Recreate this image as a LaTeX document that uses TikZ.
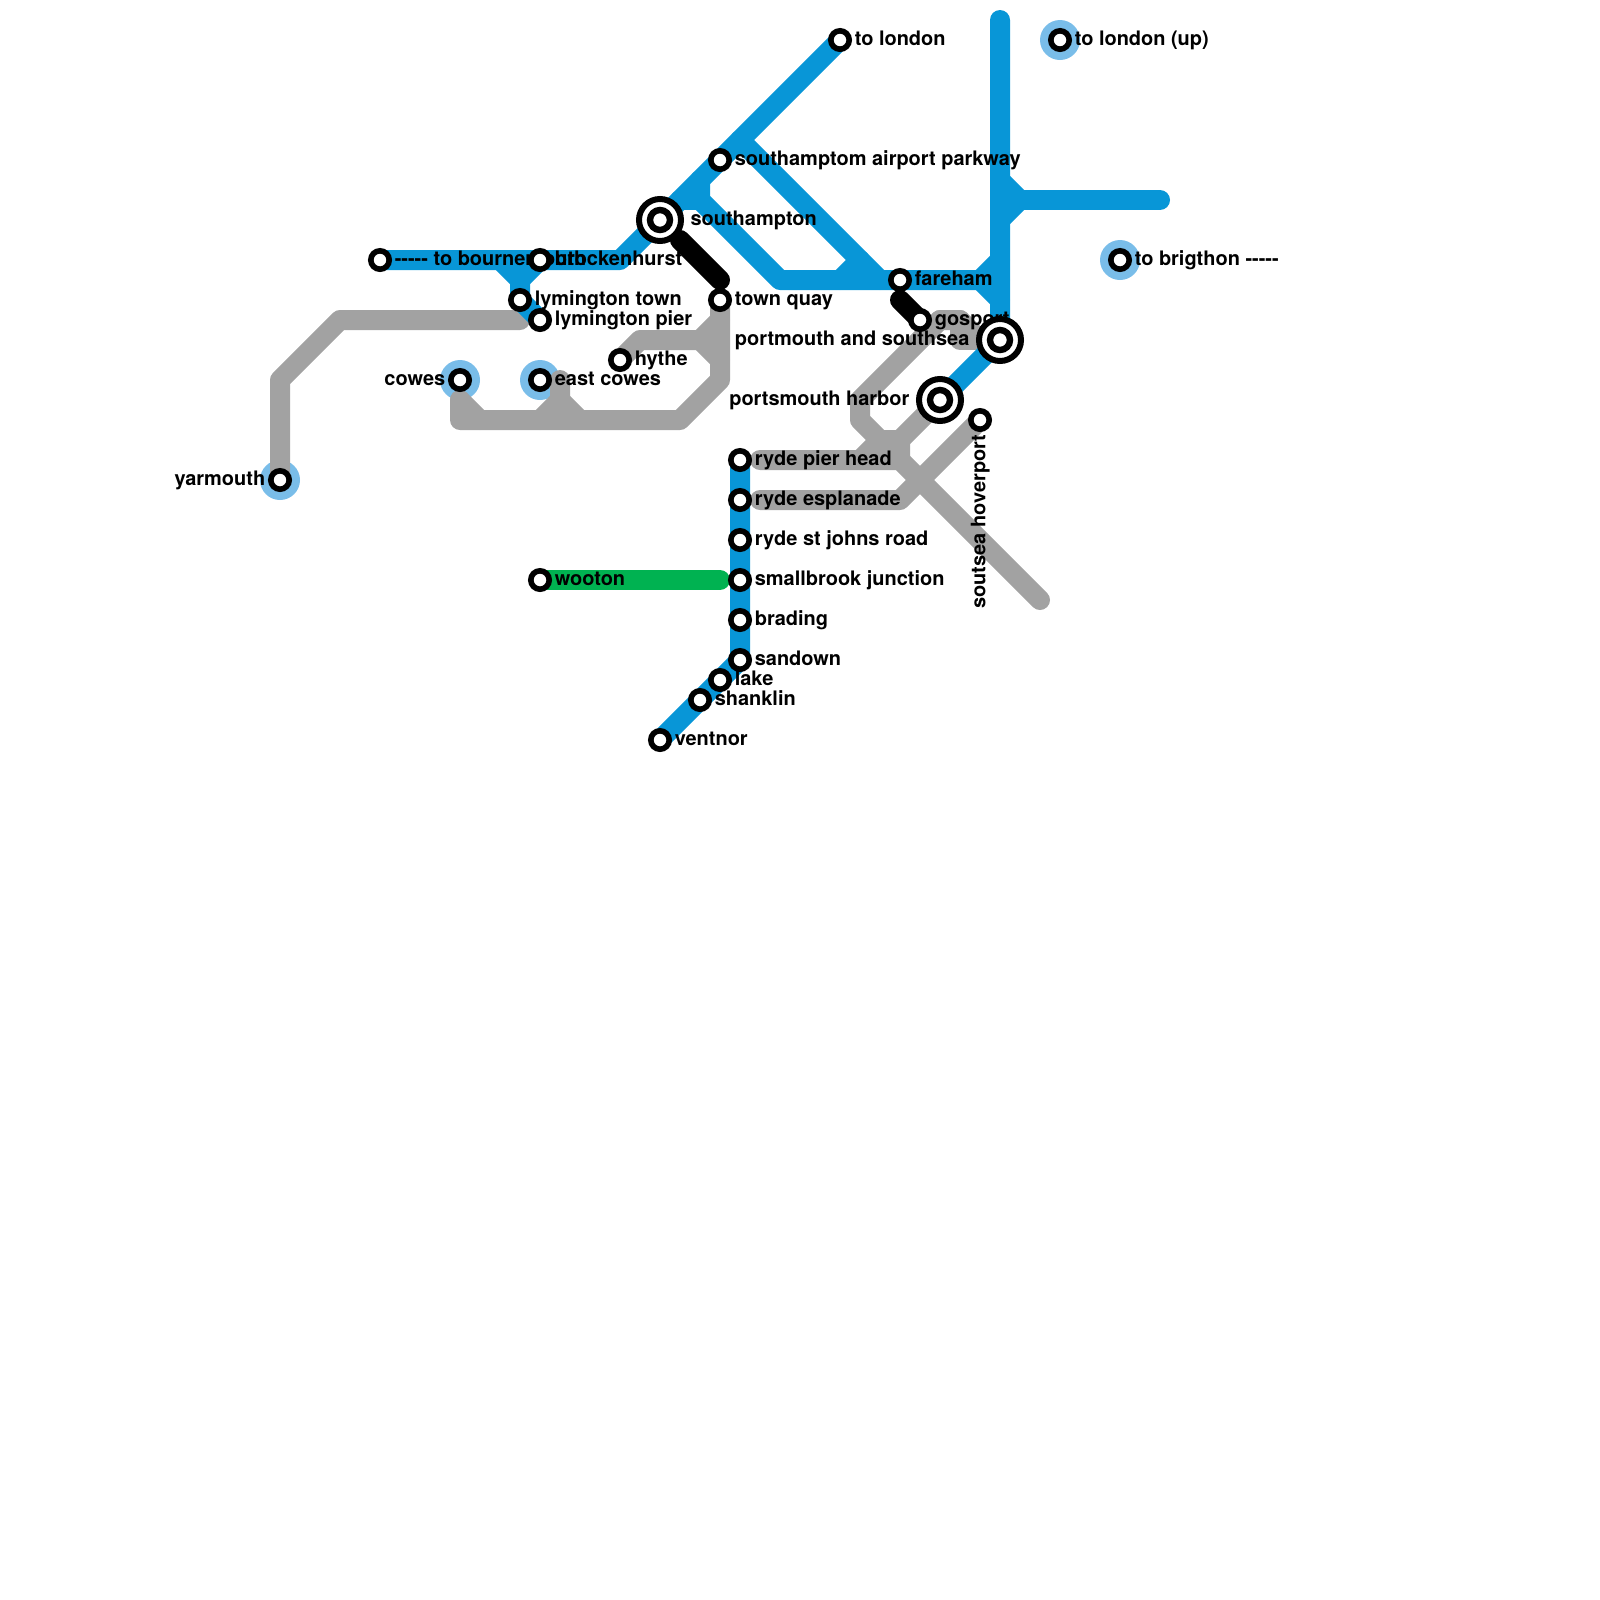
\documentclass[tikz,border=0pt]{standalone}
\usepackage{fontspec}
\setmainfont{TeX Gyre Heros}
\usetikzlibrary{positioning}
\definecolor{Blue}{HTML}{0896D7}
\definecolor{Halo}{HTML}{79BDE9}
\definecolor{Grey}{HTML}{A2A2A2}
\definecolor{Green}{HTML}{00B251}
\pgfdeclarelayer{halos}
\pgfdeclarelayer{lines}
\pgfdeclarelayer{labs}
\pgfsetlayers{halos,lines,labs,main}
\tikzset{
  stn/.style={circle,draw=black,fill=white,line width=1.4mm,minimum size=4.6mm,inner sep=0,outer sep=0},
  xstn/.style={stn,line width=1.5mm,minimum size=10.5mm},
  xin/.style={stn,line width=1.6mm,minimum size=5mm},
  halo/.style={circle,fill=Halo,minimum size=10mm,inner sep=0,outer sep=0},
  track/.style={line width=5mm,line cap=round,line join=round},
  blue/.style={track,draw=Blue},
  grey/.style={track,draw=Grey},
  lab/.style={font=\fontsize{14.2}{16}\selectfont\bfseries,text=black,inner sep=0,outer sep=0,text height=10.4pt,text depth=2.8pt}
}
\begin{document}
\begin{tikzpicture}[x=5mm,y=-5mm]
\useasboundingbox (0,0) rectangle (80,80);

% stations
\node[stn] (bourne) at (19,13) {};
\node[stn] (brockenhurst) at (27,13) {};
\node[stn] (lymtown) at (26,15) {};
\node[stn] (lympier) at (27,16) {};
\node[stn] (yarmouth) at (14,24) {};
\node[stn] (cowes) at (23,19) {};
\node[stn] (eastcowes) at (27,19) {};
\node[stn] (hythe) at (31,18) {};
\node[xstn] (southampton) at (33,11) {};
\node[xin] (southamptonin) at (33,11) {};
\node[stn] (airport) at (36,8) {};
\node[stn] (london) at (42,2) {};
\node[stn] (londonup) at (53,2) {};
\node[stn] (brighton) at (56,13) {};
\node[stn] (townquay) at (36,15) {};
\node[stn] (fareham) at (45,14) {};
\node[stn] (gosport) at (46,16) {};
\node[xstn] (southsea) at (50,17) {};
\node[xin] (southseain) at (50,17) {};
\node[xstn] (harbor) at (47,20) {};
\node[xin] (harborin) at (47,20) {};
\node[stn] (hoverport) at (49,21) {};
\node[stn] (pierhead) at (37,23) {};
\node[stn] (esplanade) at (37,25) {};
\node[stn] (stjohns) at (37,27) {};
\node[stn] (smallbrook) at (37,29) {};
\node[stn] (brading) at (37,31) {};
\node[stn] (sandown) at (37,33) {};
\node[stn] (lake) at (36,34) {};
\node[stn] (shanklin) at (35,35) {};
\node[stn] (ventnor) at (33,37) {};
\node[stn] (wooton) at (27,29) {};

% halos
\begin{pgfonlayer}{halos}
\node[halo] (yarmouthhalo) at (yarmouth) {};
\node[halo] (coweshalo) at (cowes) {};
\node[halo] (eastcoweshalo) at (eastcowes) {};
\node[halo] (londonuphalo) at (londonup) {};
\node[halo] (brightonhalo) at (brighton) {};
\end{pgfonlayer}

% bends of the tracks
\coordinate (lymfork) at (25,13);
\coordinate (lymjoin) at (26,14);
\coordinate (bkend) at (31,13);
\coordinate (parkway) at (37,7);
\coordinate (parkwayend) at (44,14);
\coordinate (spur) at (35,9);
\coordinate (spurbend) at (35,10);
\coordinate (spurleft) at (34,10);
\coordinate (spurlow) at (39,14);
\coordinate (farehamend) at (50,14);
\coordinate (cutfoot) at (42,14);
\coordinate (cuttop) at (43,13);
\coordinate (eastfork) at (49,14);
\coordinate (eastup) at (50,13);
\coordinate (eastdown) at (50,15);
\coordinate (northend) at (50,1);
\coordinate (branchup) at (50,9);
\coordinate (branchdown) at (50,11);
\coordinate (branchjoin) at (51,10);
\coordinate (branchend) at (58,10);
\coordinate (wootonend) at (36,29);
\coordinate (quaystart) at (34,12);
\coordinate (quayend) at (36,14);
\coordinate (gosportend) at (45,15);
\coordinate (solenttop) at (26,16);
\coordinate (solentbend) at (17,16);
\coordinate (yarbend) at (14,19);
\coordinate (cowesstart) at (23,20);
\coordinate (cowescorner) at (23,21);
\coordinate (cowesdiag) at (24,21);
\coordinate (shorebend) at (34,21);
\coordinate (shoreup) at (36,19);
\coordinate (ecfoot) at (27,21);
\coordinate (ecmid) at (28,20);
\coordinate (ectop) at (28,19);
\coordinate (ecright) at (29,21);
\coordinate (hythebend) at (32,17);
\coordinate (hytheend) at (35,17);
\coordinate (hytheup) at (36,16);
\coordinate (hythedown) at (36,18);
\coordinate (piergrey) at (38,23);
\coordinate (piercross) at (45,23);
\coordinate (espgrey) at (38,25);
\coordinate (espbend) at (45,25);
\coordinate (solentend) at (52,30);
\coordinate (gostop) at (47,16);
\coordinate (gosright) at (48,16);
\coordinate (goslow) at (48,17);
\coordinate (gosjoin) at (49,17);
\coordinate (westbend) at (43,20);
\coordinate (westlow) at (43,21);
\coordinate (westdiag) at (44,22);
\coordinate (westflat) at (45,22);
\coordinate (westfoot) at (43,23);

% tracks
\begin{pgfonlayer}{lines}
\draw[grey] (yarmouth.center)--(yarbend)--(solentbend)--(solenttop);
\draw[grey] (cowesstart)--(cowescorner)--(shorebend)--(shoreup)--(townquay.center);
\draw[grey] (cowesstart)--(cowesdiag);
\draw[grey] (ecfoot)--(ecmid)--(ectop);
\draw[grey] (ecmid)--(ecright);
\draw[grey] (hythe.center)--(hythebend)--(hytheend);
\draw[grey] (hytheup)--(hytheend)--(hythedown);
\draw[grey] (piergrey)--(piercross)--(solentend);
\draw[grey] (espgrey)--(espbend)--(hoverport.center);
\draw[grey] (gostop)--(westbend)--(westlow)--(westdiag)--(westflat)--(piercross);
\draw[grey] (westflat)--(harbor.center);
\draw[grey] (westdiag)--(westfoot);
\draw[grey] (gostop)--(gosright)--(gosjoin)--(southsea.center);
\draw[grey] (gosright)--(goslow)--(gosjoin);

\draw[blue] (bourne.center)--(bkend)--(london.center);
\draw[blue] (lymfork)--(lymjoin)--(lymtown.center)--(lympier.center);
\draw[blue] (brockenhurst.center)--(lymjoin);
\draw[blue] (parkway)--(parkwayend);
\draw[blue] (spur)--(spurbend)--(spurlow)--(farehamend);
\draw[blue] (spurleft)--(spurbend);
\draw[blue] (cutfoot)--(cuttop);
\draw[blue] (eastup)--(eastfork)--(eastdown);
\draw[blue] (northend)--(southsea.center)--(harbor.center);
\draw[blue] (branchup)--(branchjoin)--(branchdown);
\draw[blue] (branchjoin)--(branchend);
\draw[blue] (pierhead.center)--(sandown.center)--(ventnor.center);
\draw[track,draw=Green] (wooton.center)--(wootonend);
\draw[track,draw=black] (quaystart)--(quayend);
\draw[track,draw=black] (gosportend)--(gosport.center);
\end{pgfonlayer}

% labels
\begin{pgfonlayer}{labs}
\node[lab,right=1.4mm of bourne] (bournelab) {-{}-{}-{}-{}- to bournemouth};
\node[lab,right=1.4mm of brockenhurst] (brockenhurstlab) {brockenhurst};
\node[lab,right=1.4mm of lymtown] (lymtownlab) {lymington town};
\node[lab,right=1.4mm of lympier] (lympierlab) {lymington pier};
\node[lab,left=1.4mm of yarmouth] (yarmouthlab) {yarmouth};
\node[lab,left=1.4mm of cowes] (coweslab) {cowes};
\node[lab,right=1.4mm of eastcowes] (eastcoweslab) {east cowes};
\node[lab,right=1.4mm of hythe] (hythelab) {hythe};
\node[lab,right=2.4mm of southampton] (southamptonlab) {southampton};
\node[lab,right=1.4mm of airport] (airportlab) {southamptom airport parkway};
\node[lab,right=1.4mm of london] (londonlab) {to london};
\node[lab,right=1.4mm of londonup] (londonuplab) {to london (up)};
\node[lab,right=1.4mm of brighton] (brightonlab) {to brigthon -{}-{}-{}-{}-};
\node[lab,right=1.4mm of townquay] (townquaylab) {town quay};
\node[lab,right=1.4mm of fareham] (farehamlab) {fareham};
\node[lab,right=1.4mm of gosport] (gosportlab) {gosport};
\node[lab,left=2.4mm of southsea] (southsealab) {portmouth and southsea};
\node[lab,left=2.4mm of harbor] (harborlab) {portsmouth harbor};
\node[lab,below=1.4mm of hoverport,anchor=east,rotate=90] (hoverportlab) {soutsea hoverport};
\node[lab,right=1.4mm of pierhead] (pierheadlab) {ryde pier head};
\node[lab,right=1.4mm of esplanade] (esplanadelab) {ryde esplanade};
\node[lab,right=1.4mm of stjohns] (stjohnslab) {ryde st johns road};
\node[lab,right=1.4mm of smallbrook] (smallbrooklab) {smallbrook junction};
\node[lab,right=1.4mm of brading] (bradinglab) {brading};
\node[lab,right=1.4mm of sandown] (sandownlab) {sandown};
\node[lab,right=1.4mm of lake] (lakelab) {lake};
\node[lab,right=1.4mm of shanklin] (shanklinlab) {shanklin};
\node[lab,right=1.4mm of ventnor] (ventnorlab) {ventnor};
\node[lab,right=1.4mm of wooton] (wootonlab) {wooton};
\end{pgfonlayer}
\end{tikzpicture}
\end{document}
